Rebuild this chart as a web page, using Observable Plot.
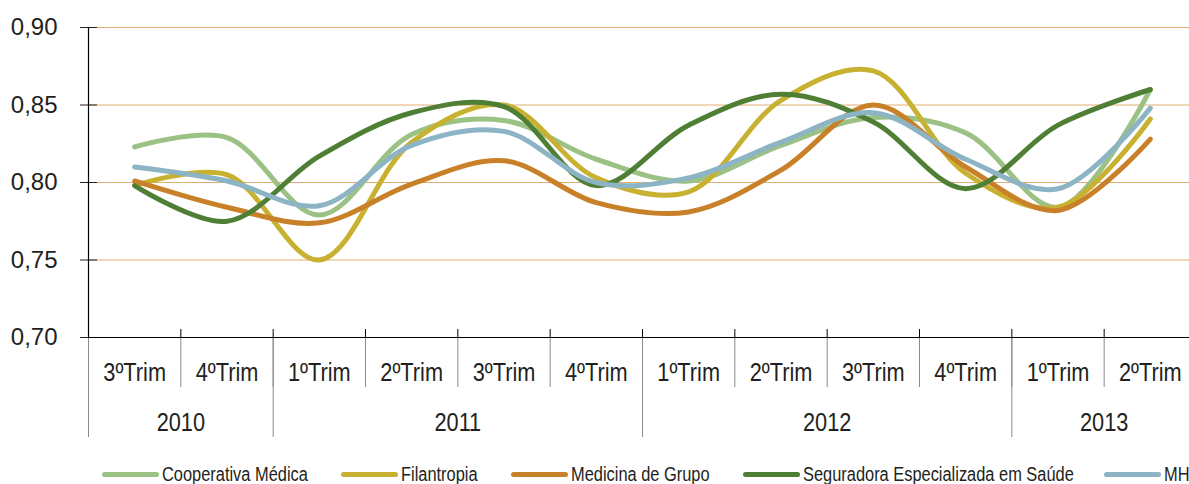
<!DOCTYPE html>
<html>
<head>
<meta charset="utf-8">
<script src="https://cdn.jsdelivr.net/npm/d3@7"></script>
<script src="https://cdn.jsdelivr.net/npm/@observablehq/plot@0.6"></script>
<style>
  body { margin: 0; background: #fff; }
  #wrap { position: relative; width: 1189px; height: 484px; overflow: hidden; }
  #legend { position: relative; height: 29px; font-family: "Liberation Sans", Arial, sans-serif; font-size: 20px; color: #231f20; }
  .item { position: absolute; top: 9px; height: 20px; display: flex; align-items: center; white-space: nowrap; }
  .sw { width: 57px; height: 5px; border-radius: 3px; margin-right: 3px; flex: none; }
  .tx { display: inline-block; transform: scaleX(0.82); transform-origin: left center; }
</style>
</head>
<body>
<div id="wrap"><div id="chart"></div><div id="legend"></div></div>
<script>
// ---- data ----
const quarters = ["3ºTrim","4ºTrim","1ºTrim","2ºTrim","3ºTrim","4ºTrim","1ºTrim","2ºTrim","3ºTrim","4ºTrim","1ºTrim","2ºTrim"];
const years    = ["2010","2010","2011","2011","2011","2011","2012","2012","2012","2012","2013","2013"];
const seriesNames = ["Cooperativa Médica","Filantropia","Medicina de Grupo","Seguradora Especializada em Saúde","MH"];
const cooperativa = [0.823,0.829,0.779,0.831,0.840,0.815,0.801,0.824,0.842,0.832,0.784,0.860];
const filantropia = [0.798,0.805,0.750,0.826,0.850,0.803,0.794,0.853,0.872,0.806,0.784,0.841];
const medicina    = [0.801,0.784,0.774,0.799,0.814,0.787,0.781,0.808,0.850,0.810,0.782,0.828];
const seguradora  = [0.798,0.775,0.817,0.845,0.849,0.798,0.837,0.857,0.839,0.796,0.837,0.860];
const mh          = [0.810,0.801,0.785,0.824,0.833,0.800,0.803,0.826,0.845,0.815,0.796,0.848];
const yTicks = [0.70,0.75,0.80,0.85,0.90];
const colors = ["#9cc185","#c8b130","#c98129","#4f7f35","#8cb4c4"];

// ---- derived tables ----
const seriesValues = [cooperativa, filantropia, medicina, seguradora, mh];
const rows = seriesValues.flatMap((vals, s) => vals.map((v, i) => ({series: seriesNames[s], i, v})));
const n = quarters.length;
const xDomain = [-0.5, n - 0.5];
const boundaries = d3.range(n + 1).map(i => i - 0.5);
const yearBoundaries = boundaries.filter(b => b === -0.5 || b === n - 0.5 || years[b - 0.5] !== years[b + 0.5]);
const yearNames = Array.from(new Set(years));
const yearCenters = yearNames.map(y => d3.mean(d3.range(n).filter(i => years[i] === y)));

const font = '"Liberation Sans", Arial, sans-serif';

const chart = Plot.plot({
  width: 1189,
  height: 455,
  marginLeft: 88,
  marginRight: 0,
  marginTop: 27,
  marginBottom: 118,
  style: {fontFamily: font, color: "#231f20", background: "#fff", overflow: "visible"},
  x: {type: "linear", domain: xDomain, range: [88, 1196]},
  y: {domain: [yTicks[0], yTicks[yTicks.length - 1]]},
  marks: [
    Plot.ruleY(yTicks.slice(1), {stroke: "#e2ad70", strokeWidth: 1}),
    // y axis ticks + labels
    Plot.axisY({ticks: yTicks, tickSize: 17, dx: 9, tickPadding: 23, stroke: "#231f20",
      tickFormat: d => d.toFixed(2).replace(".", ","), fontSize: 24, label: null}),
    // small ticks above the category axis
    Plot.axisX({ticks: boundaries, tickSize: 8, dy: -8, stroke: "#000", tickFormat: () => "", label: null}),
    // quarter separators
    Plot.axisX({ticks: boundaries, tickSize: 50, stroke: "#8a8a8a", tickFormat: () => "", label: null}),
    // year separators
    Plot.axisX({ticks: yearBoundaries, tickSize: 100, stroke: "#8a8a8a", tickFormat: () => "", label: null}),
    // quarter labels
    Plot.axisX({ticks: d3.range(n), tickSize: 0, tickPadding: 26, tickFormat: i => quarters[i],
      fontSize: 25, label: null}),
    // year labels
    Plot.axisX({ticks: yearCenters, tickSize: 0, tickPadding: 76, tickFormat: (d, k) => yearNames[k],
      fontSize: 25, label: null}),
    Plot.ruleX([xDomain[0]], {stroke: "#000", strokeWidth: 1.2}),
    Plot.ruleY([yTicks[0]], {stroke: "#000", strokeWidth: 1.2}),
    Plot.line(rows, {x: "i", y: "v", z: "series", stroke: d => colors[seriesNames.indexOf(d.series)],
      strokeWidth: 5, curve: "catmull-rom", strokeLinecap: "round", strokeLinejoin: "round"})
  ]
});
document.getElementById("chart").appendChild(chart);

// condensed look for category labels: append a horizontal scale to each label's own transform
d3.select(chart).selectAll('g[aria-label="x-axis tick label"] text').each(function() {
  const t = this.getAttribute("transform") || "";
  this.setAttribute("transform", (t + " scale(0.87,1)").trim());
});

// ---- legend ----
const legendLeft = [102, 341, 511, 743, 1104];
const legend = document.getElementById("legend");
seriesNames.forEach((name, s) => {
  const it = document.createElement("div");
  it.className = "item";
  it.style.left = legendLeft[s] + "px";
  const sw = document.createElement("span");
  sw.className = "sw";
  sw.style.background = colors[s];
  const tx = document.createElement("span");
  tx.className = "tx";
  tx.textContent = name;
  it.appendChild(sw); it.appendChild(tx);
  legend.appendChild(it);
});
</script>
</body>
</html>
